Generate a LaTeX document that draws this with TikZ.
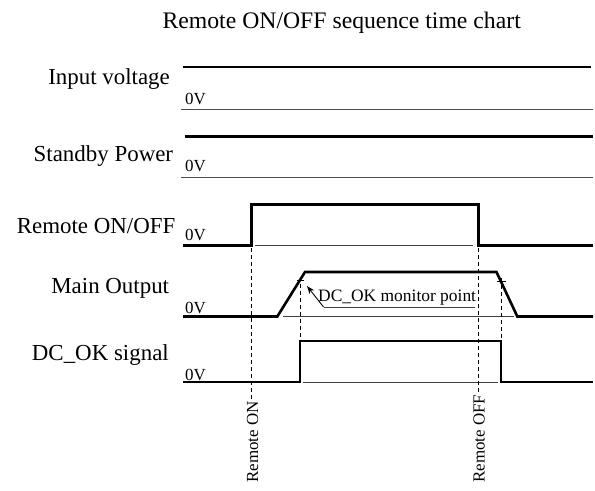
\documentclass[tikz,border=0pt]{standalone}
\usepackage{fontspec}
\setmainfont{Liberation Serif}
\usetikzlibrary{arrows.meta}
\begin{document}
\begin{tikzpicture}[x=1bp,y=-1bp,
  sig/.style={line width=2.6bp, line join=miter, line cap=butt},
  zero/.style={line width=1bp, black!70},
  base/.style={line width=0.9bp, black!75},
  guide/.style={line width=0.9bp, dash pattern=on 4bp off 3bp},
  tick/.style={line width=0.9bp},
  lab/.style={font=\fontsize{23}{26}\selectfont, anchor=base east, inner sep=0},
  zv/.style={font=\fontsize{17}{19}\selectfont, anchor=base west, inner sep=0},
  evt/.style={font=\fontsize{17}{19}\selectfont, rotate=90, anchor=west, inner sep=0}
]
\useasboundingbox (0,0) rectangle (595,491);

% title
\node[font=\fontsize{23.8}{26}\selectfont, anchor=base, inner sep=0] (title) at (341.7,28.3) {Remote ON/OFF sequence time chart};

% row labels
\node[lab] (lin) at (170,85) {Input voltage};
\node[lab] (lsb) at (173.3,161.7) {Standby Power};
\node[lab] (lre) at (175.5,234) {Remote ON/OFF};
\node[lab] (lmo) at (169.3,293.3) {Main Output};
\node[lab] (ldc) at (169,360) {DC\_OK signal};

% 0V labels
\node[zv] (z1) at (185,105) {0V};
\node[zv] (z2) at (185,171.7) {0V};
\node[zv] (z3) at (185,240.7) {0V};
\node[zv] (z4) at (185,313) {0V};
\node[zv] (z5) at (185,380) {0V};

% Input voltage
\draw[sig] (182.7,67) -- (591,67);
\draw[zero] (181,109.3) -- (593,109.3);

% Standby power
\draw[sig] (185,136.7) -- (593,136.7);
\draw[zero] (181,177.7) -- (593,177.7);

% Remote ON/OFF
\draw[base] (255,245.7) -- (473,245.7);
\draw[sig] (183,245.7) -- (251.7,245.7) -- (251.7,204.7) -- (478.3,204.7) -- (478.3,245.7) -- (593,245.7);

% Main output
\draw[base] (283,316.5) -- (514,316.5);
\draw[sig] (183,316.5) -- (277.3,316.5) -- (305,272) -- (496.5,272) -- (517.3,316.5) -- (593,316.5);

% DC_OK
\draw[base] (303,382) -- (498,382);
\draw[sig] (183,382) -- (300,382) -- (300,341) -- (501,341) -- (501,382) -- (593,382);

% event labels
\node[evt] (ron) at (252.5,483) {Remote ON};
\node[evt] (roff) at (479,483) {Remote OFF};

% guides
\coordinate (g1) at (251.7,248);
\coordinate (g2) at (478.3,248);
\draw[guide] (g1) -- ([yshift=2bp]g1 |- ron.east);
\draw[guide] (g2) -- ([yshift=2bp]g2 |- roff.east);

\coordinate (m1) at (300,276.5);
\coordinate (m1b) at (300,341);
\coordinate (m2) at (501,278);
\coordinate (m2b) at (501,341);
\draw[guide] (m1) -- (m1b);
\draw[guide] (m2) -- (m2b);
\draw[tick] (296.5,280) -- (304,280);
\draw[tick] (497,281.7) -- (506,281.7);

% monitor point
\node[font=\fontsize{17.5}{20}\selectfont, anchor=base west, inner sep=0] (mon) at (318,301.7) {DC\_OK monitor point};
\coordinate (u1) at (475,307);
\coordinate (u0) at (323.5,307);
\coordinate (tip) at (307,286);
\draw[base] (u1) -- (u0);
\draw[line width=0.9bp, -{Stealth[length=8bp,width=6bp]}] (u0) -- (tip);
\end{tikzpicture}
\end{document}
